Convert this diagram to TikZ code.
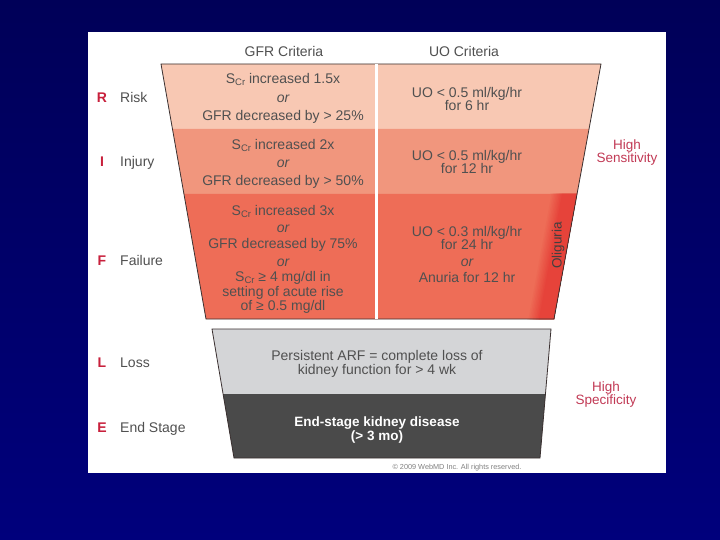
\documentclass[tikz,border=0pt]{standalone}
\usepackage{fontspec}
\setmainfont{Liberation Sans}
\definecolor{bgtop}{HTML}{000058}
\definecolor{bgmid}{HTML}{0000D4}
\definecolor{bgbot}{HTML}{00007C}
\definecolor{riskc}{HTML}{F8C8B3}
\definecolor{injc}{HTML}{F1967D}
\definecolor{failc}{HTML}{EE6D57}
\definecolor{oligc}{HTML}{E6433A}
\definecolor{lossc}{HTML}{D4D5D7}
\definecolor{endc}{HTML}{4A4A4A}
\definecolor{edgec}{HTML}{3A3030}
\definecolor{textgray}{HTML}{505050}
\definecolor{lettc}{HTML}{C8203C}
\definecolor{sidec}{HTML}{C23A55}
\newcommand{\Scr}{S\raisebox{-0.3ex}{\fontsize{9.5}{9.5}\selectfont Cr}}
\begin{document}
\begin{tikzpicture}[x=1pt,y=-1pt,
  txt/.style={font=\fontsize{14}{15}\selectfont, text=textgray, anchor=mid, inner sep=0pt, yshift=-2.5pt},
  orx/.style={txt, font=\fontsize{14}{15}\selectfont\itshape},
  lett/.style={font=\fontsize{14}{15}\selectfont\bfseries, text=lettc, anchor=mid, inner sep=0pt, yshift=-2.5pt},
  lab/.style={txt, anchor=mid west},
  side/.style={font=\fontsize{13.5}{14}\selectfont, text=sidec, anchor=mid, inner sep=0pt, yshift=-2.5pt},
  edge/.style={draw=edgec, line width=0.8pt}]
\useasboundingbox (0,0) rectangle (720,540);
\shade[top color=bgtop, middle color=bgmid, bottom color=bgbot] (0,0) rectangle (720,540);
\fill[white] (88,32) rectangle (666,473);

% headers
\node[txt] (hgfr) at (284,51) {GFR Criteria};
\node[txt] (huo) at (464,51) {UO Criteria};

% red funnel rows
\fill[riskc] (161,64) -- (601,64) -- (589,129) -- (172.5,129) -- cycle;
\fill[injc] (172.5,129) -- (589,129) -- (577,194) -- (184,194) -- cycle;
\fill[failc] (184,194) -- (577,194) -- (554,319) -- (206,319) -- cycle;
% oliguria strip with soft left edge
\foreach \k in {0,...,8}{
  \pgfmathsetmacro{\off}{27-1.5*\k}
  \pgfmathsetmacro{\mixv}{\k*12.5}
  \fill[oligc!\mixv!failc] (577-\off,194) -- (577,194) -- (554,319) -- (554-\off,319) -- cycle;
}
\draw[edge] (161,64) -- (601,64) -- (554,319) -- (206,319) -- cycle;
\draw[white, line width=3pt] (376.5,64.5) -- (376.5,318.5);

% loss / end stage
\fill[lossc] (212,329) -- (551,329) -- (545.5,394) -- (223,394) -- cycle;
\fill[endc] (223,394) -- (545.5,394) -- (540,458) -- (234,458) -- cycle;
\draw[edge] (212,329) -- (551,329) -- (540,458) -- (234,458) -- cycle;

% Risk
\node[txt] (r1) at (283,78) {\Scr\ increased 1.5x};
\node[orx] (r2) at (283,97) {or};
\node[txt] (r3) at (283,115) {GFR decreased by > 25\%};
\node[txt] (ru1) at (467,92) {UO < 0.5 ml/kg/hr};
\node[txt] (ru2) at (467,105) {for 6 hr};
% Injury
\node[txt] (i1) at (283,144) {\Scr\ increased 2x};
\node[orx] (i2) at (283,162) {or};
\node[txt] (i3) at (283,180) {GFR decreased by > 50\%};
\node[txt] (iu1) at (467,155) {UO < 0.5 ml/kg/hr};
\node[txt] (iu2) at (467,168) {for 12 hr};
% Failure
\node[txt] (f1) at (283,210) {\Scr\ increased 3x};
\node[orx] (f2) at (283,227) {or};
\node[txt] (f3) at (283,243) {GFR decreased by 75\%};
\node[orx] (f4) at (283,261) {or};
\node[txt] (f5) at (283,276) {\Scr\ ≥ 4 mg/dl in};
\node[txt] (f6) at (283,291) {setting of acute rise};
\node[txt] (f7) at (283,305) {of ≥ 0.5 mg/dl};
\node[txt] (fu1) at (467,231) {UO < 0.3 ml/kg/hr};
\node[txt] (fu2) at (467,244) {for 24 hr};
\node[orx] (fu3) at (467,261) {or};
\node[txt] (fu4) at (467,277) {Anuria for 12 hr};
\node[txt, rotate=90, yshift=0pt, xshift=0pt, text=textgray!80!black, font=\fontsize{13.5}{14}\selectfont] (olig) at (559,243) {Oliguria};
% Loss / End
\node[txt] (l1) at (377,355) {Persistent ARF = complete loss of};
\node[txt] (l2) at (377,369) {kidney function for > 4 wk};
\node[txt, text=white, font=\fontsize{13.5}{14}\selectfont\bfseries] (e1) at (377,421) {End-stage kidney disease};
\node[txt, text=white, font=\fontsize{13.5}{14}\selectfont\bfseries] (e2) at (377,435) {(> 3 mo)};
\node[txt, font=\fontsize{7.3}{8}\selectfont, text=gray, yshift=1pt] (copy) at (457,465) {© 2009 WebMD Inc. All rights reserved.};

% left labels
\node[lett] (lr) at (102,97) {R};
\node[lab] (wr) at (120,97) {Risk};
\node[lett] (li) at (102,161) {I};
\node[lab] (wi) at (120,161) {Injury};
\node[lett] (lf) at (102,260) {F};
\node[lab] (wf) at (120,260) {Failure};
\node[lett] (ll) at (102,362) {L};
\node[lab] (wl) at (120,362) {Loss};
\node[lett] (le) at (102,427) {E};
\node[lab] (we) at (120,427) {End Stage};

% right labels
\node[side] (hs1) at (627,144) {High};
\node[side] (hs2) at (627,157) {Sensitivity};
\node[side] (hp1) at (606,386) {High};
\node[side] (hp2) at (606,399) {Specificity};
\end{tikzpicture}
\end{document}
